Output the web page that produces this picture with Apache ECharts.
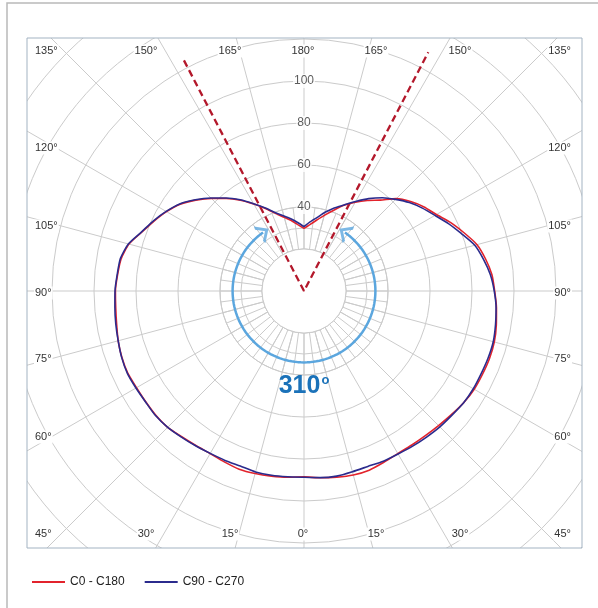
<!DOCTYPE html>
<html>
<head>
<meta charset="utf-8">
<script src="https://cdn.jsdelivr.net/npm/echarts@6/dist/echarts.min.js"></script>
<style>
html, body { margin: 0; padding: 0; background: #fff; }
#main { width: 598px; height: 608px; }
</style>
</head>
<body>
<div id="main"></div>
<script>
/* gamma angles, 0 = straight down, 180 = straight up */
var gammaDeg = [0,5,10,15,20,25,30,35,40,45,50,55,60,65,70,75,80,85,90,95,100,105,110,115,120,125,130,135,140,145,150,155,160,165,170,175,180];

/* C0 - C180 plane (red): right half C0, left half C180 */
var c0 = [88.5,89.3,90,90.7,90.8,90,89.4,89.5,89.9,90.6,91.6,92.8,93.6,93.8,94,93.8,93,92,90.8,89.8,87.8,85.3,81.1,77.1,72.8,69.8,66.3,62.2,56.5,52.6,48.8,45,40.8,37.3,34.2,31.7,29.8];
var c180 = [88.5,89,89.5,90,90.3,89.8,89.4,89.8,90.6,91.8,92.1,92,92.1,92.6,92.3,91.6,90.6,90,89.8,89.1,88.4,86.3,82.1,78.8,75.6,72,67.3,62.3,57.5,52.8,47.8,43.4,39.2,36.3,34,31.6,29.8];

/* C90 - C270 plane (blue): right half C90, left half C270 */
var c90 = [88.7,89.2,89.5,89.1,88.9,89.4,89.6,90.2,90.8,91.5,92,92.8,93.1,93.1,93.3,93.3,92.6,91.8,90.6,89.1,86.8,84.2,79.8,75.9,72,68.8,65.5,61.7,58,53.7,49.2,45.2,42.1,38.8,35.5,33,30.6];
var c270 = [88.7,88.8,89.1,89.2,88.7,89,89.3,90,90.8,91.8,92.3,92.1,92.4,92.8,92.4,91.6,91,90.4,90,89.3,88.8,86.6,82.3,79.1,75.8,72.3,67.6,62.6,57.8,53,48,43.6,39.6,37,34.8,32.6,30.6];

var seriesNames = ['C0 - C180', 'C90 - C270'];
var radiusTicks = [40, 60, 80, 100];

/* beam angle annotation */
var beamLabel = '310';
var cutoffGamma = [152.5, 152.5];   // left, right dashed lines
var cutoffLength = [123.8, 128.2];
var arcRadius = 34;
var arcEndGamma = 145;

/* tick labels around the box */
var topLabels = ['150°', '165°', '180°', '165°', '150°'];
var bottomLabels = ['30°', '15°', '0°', '15°', '30°'];
var sideLabels = ['135°', '120°', '105°', '90°', '75°', '60°', '45°'];

/* layout */
var CX = 304, CY = 291, PX = 2.1;
var BOX = { x: 27, y: 38, w: 555, h: 510 };
var grid_color = '#cbcbcb';
var label_font = '11px "Liberation Sans", Arial, sans-serif';

function closedCurve(leftVals, rightVals) {
	var pts = [];
	for (var i = gammaDeg.length - 1; i >= 0; i--) {
		pts.push([leftVals[i], 180 - gammaDeg[i]]);
	}
	for (var j = 1; j < gammaDeg.length; j++) {
		pts.push([rightVals[j], 180 + gammaDeg[j]]);
	}
	return pts;
}

var arcData = [];
for (var t = 180 - arcEndGamma; t <= 180 + arcEndGamma; t += 2.5) {
	arcData.push([arcRadius, t]);
}

var vData = [
	[cutoffLength[0], 180 - cutoffGamma[0]],
	[0, 0],
	[cutoffLength[1], 180 + cutoffGamma[1]]
];

function hiddenAxis(extra) {
	var base = {
		axisLine: { show: false },
		axisTick: { show: false },
		axisLabel: { show: false },
		splitLine: { show: true, lineStyle: { color: grid_color, width: 1 } },
		z: 0
	};
	for (var k in extra) base[k] = extra[k];
	return base;
}

/* texts on the box edges */
var textEls = [];
var midXs = [146, 230, 303, 376, 460];
var sideYs = [51, 148, 226, 293, 359, 437, 534];
function addText(txt, x, y, align) {
	textEls.push({
		type: 'text', z: 30, x: x, y: y,
		style: {
			text: txt, font: label_font, fill: '#333', align: align, verticalAlign: 'middle',
			backgroundColor: '#fff', padding: [1, 1]
		}
	});
}
for (var i = 0; i < midXs.length; i++) {
	addText(topLabels[i], midXs[i], 51, 'center');
	addText(bottomLabels[i], midXs[i], 534, 'center');
}
for (var s = 0; s < sideYs.length; s++) {
	addText(sideLabels[s], 34, sideYs[s], 'left');
	addText(sideLabels[s], 572, sideYs[s], 'right');
}

var masks = [
	{ type: 'rect', z: 20, shape: { x: 0, y: 0, width: 598, height: BOX.y }, style: { fill: '#fff' } },
	{ type: 'rect', z: 20, shape: { x: 0, y: BOX.y + BOX.h, width: 598, height: 608 - BOX.y - BOX.h }, style: { fill: '#fff' } },
	{ type: 'rect', z: 20, shape: { x: 0, y: 0, width: BOX.x, height: 608 }, style: { fill: '#fff' } },
	{ type: 'rect', z: 20, shape: { x: BOX.x + BOX.w, y: 0, width: 598 - BOX.x - BOX.w, height: 608 }, style: { fill: '#fff' } },
	{ type: 'rect', z: 21, shape: { x: BOX.x, y: BOX.y, width: BOX.w, height: BOX.h }, style: { fill: null, stroke: '#a3b3c2', lineWidth: 1 } },
	{ type: 'rect', z: 21, shape: { x: 7, y: 3, width: 700, height: 700 }, style: { fill: null, stroke: '#b9b9b9', lineWidth: 1.5 } },
	/* empty centre disc */
	{ type: 'circle', z: 1, shape: { cx: CX, cy: CY, r: 20 * PX }, style: { fill: '#fff', stroke: grid_color, lineWidth: 1 } },
	{
		type: 'text', z: 30, x: CX, y: 386,
		style: {
			text: '{a|' + beamLabel + '}{b|o}', align: 'center', verticalAlign: 'middle',
			rich: {
				a: { font: 'bold 25px "Liberation Sans", Arial, sans-serif', fill: '#1b72b9' },
				b: { font: 'bold 13px "Liberation Sans", Arial, sans-serif', fill: '#1b72b9', padding: [0, 0, 12, 1] }
			}
		}
	}
];

var chart = echarts.init(document.getElementById('main'), null, { renderer: 'canvas' });

var option = {
	animation: false,
	backgroundColor: '#fff',
	polar: [
		{ center: [CX, CY], radius: 180 * PX },
		{ center: [CX, CY], radius: 40 * PX }
	],
	angleAxis: [
		hiddenAxis({ polarIndex: 0, type: 'value', min: 0, max: 360, interval: 15, startAngle: 90, clockwise: false }),
		hiddenAxis({ polarIndex: 1, type: 'value', min: 0, max: 360, interval: 7.5, startAngle: 90, clockwise: false })
	],
	radiusAxis: [
		hiddenAxis({ polarIndex: 0, type: 'value', min: 0, max: 180, interval: 20 }),
		hiddenAxis({ polarIndex: 1, type: 'value', min: 0, max: 40, interval: 10 })
	],
	legend: {
		data: seriesNames,
		left: 27, top: 571, z: 40,
		icon: 'rect', itemWidth: 33, itemHeight: 2, itemGap: 20,
		textStyle: { fontFamily: 'Liberation Sans', fontSize: 12, color: '#222' }
	},
	graphic: { elements: masks.concat(textEls) },
	series: [
		{
			type: 'line', coordinateSystem: 'polar', polarIndex: 0, z: 3,
			data: arcData, symbol: 'none', silent: true,
			lineStyle: { color: '#5ba6de', width: 2.5 }
		},
		{
			type: 'scatter', coordinateSystem: 'polar', polarIndex: 0, z: 3, silent: true,
			symbol: 'path://M0,10L10,0L20,10', symbolSize: [17, 9],
			itemStyle: { color: 'rgba(0,0,0,0)', borderColor: '#5ba6de', borderWidth: 2.6 },
			data: [
				{ value: [arcRadius, 180 - arcEndGamma], symbolRotate: -55 },
				{ value: [arcRadius, 180 + arcEndGamma], symbolRotate: 55 }
			]
		},
		{
			type: 'line', coordinateSystem: 'polar', polarIndex: 0, z: 4,
			data: vData, symbol: 'none', silent: true,
			lineStyle: { color: '#b3182b', width: 2.3, type: [7, 4] }
		},
		{
			name: seriesNames[0], type: 'line', coordinateSystem: 'polar', polarIndex: 0, z: 5,
			data: closedCurve(c180, c0), symbol: 'none', smooth: 0.2,
			itemStyle: { color: '#e2232c' },
			lineStyle: { color: '#e2232c', width: 1.6 }
		},
		{
			name: seriesNames[1], type: 'line', coordinateSystem: 'polar', polarIndex: 0, z: 6,
			data: closedCurve(c270, c90), symbol: 'none', smooth: 0.2,
			itemStyle: { color: '#2b2b8d' },
			lineStyle: { color: '#2b2b8d', width: 1.6 }
		},
		{
			type: 'scatter', coordinateSystem: 'polar', polarIndex: 0, z: 7, silent: true,
			symbolSize: 1, itemStyle: { color: 'rgba(0,0,0,0)' },
			data: radiusTicks.map(function (r) { return [r, 0]; }),
			label: {
				show: true, position: 'inside',
				formatter: function (p) { return p.value[0]; },
				fontFamily: 'Liberation Sans', fontSize: 12, color: '#333',
				backgroundColor: '#fff', padding: [1, 1]
			}
		}
	]
};

chart.setOption(option);
</script>
</body>
</html>
